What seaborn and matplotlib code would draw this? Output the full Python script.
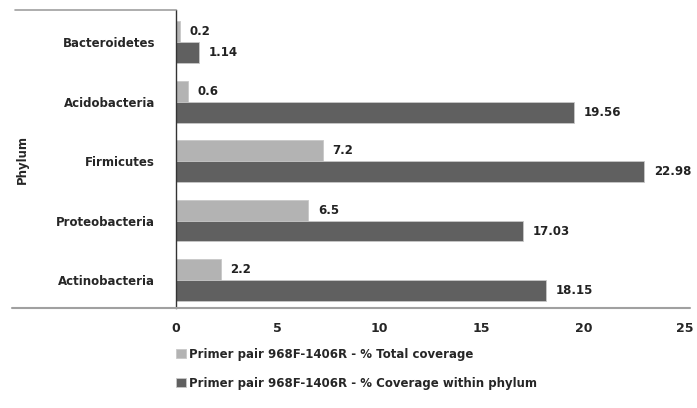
import pandas as pd
import matplotlib.pyplot as plt
import seaborn as sns
from matplotlib.lines import Line2D

# Data
phyla = ['Bacteroidetes', 'Acidobacteria', 'Firmicutes', 'Proteobacteria', 'Actinobacteria']
total_cov = [0.2, 0.6, 7.2, 6.5, 2.2]
within_cov = [1.14, 19.56, 22.98, 17.03, 18.15]
series = ['Primer pair 968F-1406R - % Total coverage',
          'Primer pair 968F-1406R - % Coverage within phylum']
total_lbl = ['0.2', '0.6', '7.2', '6.5', '2.2']
within_lbl = ['1.14', '19.56', '22.98', '17.03', '18.15']
xticks = [0, 5, 10, 15, 20, 25]

df = pd.DataFrame({
    'phylum': phyla * 2,
    'value': total_cov + within_cov,
    'series': [series[0]] * len(phyla) + [series[1]] * len(phyla),
})

sns.set_theme(style='white')
plt.rcParams['font.family'] = ['DejaVu Sans']

fig = plt.figure(figsize=(6.97, 4.08), dpi=100)
ax = fig.add_axes([0.2525, 0.245, 0.7305, 0.730])

sns.barplot(data=df, y='phylum', x='value', hue='series', order=phyla,
            hue_order=series, palette=['#b3b3b3', '#606060'], orient='h',
            width=0.7, edgecolor='#c8c8c8', linewidth=0.6, ax=ax, legend=True)

for cont, lbls in zip(ax.containers, [total_lbl, within_lbl]):
    ax.bar_label(cont, labels=lbls, padding=7, fontsize=8.5, fontweight='bold',
                 color='#222222')

ax.set_xlim(0, 25)
ax.set_ylim(4.47, -0.54)
ax.set_xticks(xticks)
ax.set_xticklabels([str(t) for t in xticks], fontsize=9, fontweight='bold')
ax.tick_params(axis='x', length=0, pad=10)
ax.tick_params(axis='y', length=0, pad=15, labelsize=8.5)
for t in ax.get_yticklabels():
    t.set_fontweight('bold')
ax.set_xlabel('')
ax.set_ylabel('')

for s in ['top', 'right', 'bottom']:
    ax.spines[s].set_visible(False)
ax.spines['left'].set_color('#333333')
ax.spines['left'].set_linewidth(1.0)

# frame lines around label area
fig.add_artist(Line2D([15 / 697, 176 / 697], [0.975, 0.975], color='#a0a0a0', lw=1.2))
fig.add_artist(Line2D([12 / 697, 690 / 697], [0.245, 0.245], color='#a0a0a0', lw=1.5))

fig.text(22 / 697, 1 - 160 / 408, 'Phylum', rotation=90, ha='center', va='center',
         fontsize=8.5, fontweight='bold')

handles, labels = ax.get_legend_handles_labels()
ax.get_legend().remove()
fig.legend(handles, labels, loc='upper left', bbox_to_anchor=(0.253, 0.148),
           frameon=False, borderpad=0, borderaxespad=0, handlelength=0.8,
           handleheight=0.8, handletextpad=0.3, labelspacing=1.35,
           prop={'weight': 'bold', 'size': 8.5})

fig.savefig('out.png', dpi=100)
